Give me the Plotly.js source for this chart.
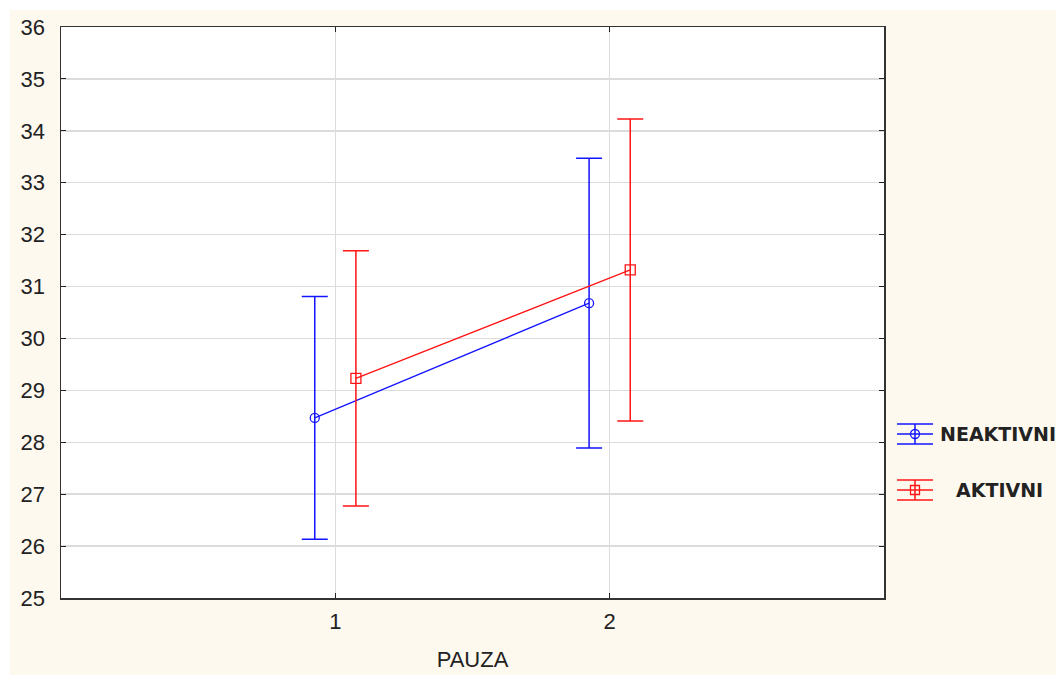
<!DOCTYPE html>
<html>
<head>
<meta charset="utf-8">
<script src="https://cdn.plot.ly/plotly-3.0.1.min.js"></script>
<style>html,body{margin:0;padding:0;background:#fff;}#chart{width:1056px;height:675px;}</style>
</head>
<body>
<div id="chart"></div>
<script>
// Data
const categories = [1, 2];
const tickLabels = ['1', '2'];
const seriesNames = ['NEAKTIVNI', 'AKTIVNI'];
const neaktivniMean = [28.47, 30.68];
const neaktivniErr = [2.34, 2.79];
const aktivniMean = [29.23, 31.32];
const aktivniErr = [2.46, 2.91];
const yTicks = [25, 26, 27, 28, 29, 30, 31, 32, 33, 34, 35, 36];

const offset = 0.075; // horizontal dodge of the two series
const blue = '#1414ff';
const red = '#ff1414';

const traces = [
  {
    x: categories.map(c => c - offset),
    y: neaktivniMean,
    name: seriesNames[0],
    type: 'scatter',
    mode: 'lines+markers',
    line: {color: blue, width: 1.3},
    marker: {symbol: 'circle-open', size: 9, color: blue, line: {width: 1.3}},
    error_y: {type: 'data', array: neaktivniErr, visible: true, color: blue, thickness: 1.5, width: 13},
    showlegend: false
  },
  {
    x: categories.map(c => c + offset),
    y: aktivniMean,
    name: seriesNames[1],
    type: 'scatter',
    mode: 'lines+markers',
    line: {color: red, width: 1.3},
    marker: {symbol: 'square-open', size: 10, color: red, line: {width: 1.3}},
    error_y: {type: 'data', array: aktivniErr, visible: true, color: red, thickness: 1.5, width: 13},
    showlegend: false
  }
];

// plot area in pixels: x 61..884, y 27..598
const L = 61, R = 884, T = 27, B = 598;
const W = R - L, H = B - T;
const px = p => (p - L) / W;
const py = p => (B - p) / H;

const shapes = [
  // white margins at top and left of the page
  {type: 'rect', xref: 'paper', yref: 'paper', x0: px(0), x1: px(1056), y0: py(10), y1: py(0), fillcolor: '#ffffff', line: {width: 0}, layer: 'below'},
  {type: 'rect', xref: 'paper', yref: 'paper', x0: px(0), x1: px(10), y0: py(675), y1: py(0), fillcolor: '#ffffff', line: {width: 0}, layer: 'below'}
];
const annotations = [];

function legendItem(cy, color, name, isSquare, textX) {
  const x0 = px(897), x1 = px(933), xc = px(915);
  [cy - 10, cy, cy + 10].forEach(yy => shapes.push({type: 'line', xref: 'paper', yref: 'paper', x0: x0, x1: x1, y0: py(yy), y1: py(yy), line: {color: color, width: 1.5}}));
  shapes.push({type: 'line', xref: 'paper', yref: 'paper', x0: xc, x1: xc, y0: py(cy - 10), y1: py(cy + 10), line: {color: color, width: 1.5}});
  const r = 4.5;
  shapes.push({type: isSquare ? 'rect' : 'circle', xref: 'paper', yref: 'paper', x0: px(915 - r), x1: px(915 + r), y0: py(cy + r), y1: py(cy - r), line: {color: color, width: 1.3}, fillcolor: 'rgba(0,0,0,0)'});
  annotations.push({xref: 'paper', yref: 'paper', x: px(textX), y: py(cy), xanchor: 'left', yanchor: 'middle', showarrow: false, text: '<b>' + name + '</b>', font: {family: 'DejaVu Sans', size: 19, color: '#222'}});
}
legendItem(434, blue, seriesNames[0], false, 938);
legendItem(490, red, seriesNames[1], true, 954);

const layout = {
  width: 1056,
  height: 675,
  margin: {l: L, r: 1056 - R, t: T, b: 675 - B},
  paper_bgcolor: '#fef9ef',
  plot_bgcolor: '#ffffff',
  showlegend: false,
  xaxis: {
    range: [0, 3],
    tickvals: categories,
    ticktext: tickLabels,
    ticks: 'inside',
    ticklen: 5,
    tickcolor: '#222',
    showline: true,
    linecolor: '#333',
    linewidth: 1.5,
    mirror: 'ticks',
    showgrid: true,
    gridcolor: '#dcdcdc',
    gridwidth: 1.5,
    zeroline: false,
    ticklabelstandoff: 3,
    tickfont: {family: 'Liberation Sans', size: 22, color: '#222'},
    title: {text: 'PAUZA', font: {family: 'Liberation Sans', size: 22, color: '#222'}, standoff: 18}
  },
  yaxis: {
    range: [25, 36],
    tickvals: yTicks,
    ticks: 'inside',
    ticklen: 5,
    tickcolor: '#222',
    showline: true,
    linecolor: '#333',
    linewidth: 1.5,
    mirror: 'ticks',
    showgrid: true,
    gridcolor: '#dcdcdc',
    gridwidth: 1.5,
    zeroline: false,
    ticklabelstandoff: 10,
    tickfont: {family: 'Liberation Sans', size: 22, color: '#222'}
  },
  shapes: shapes,
  annotations: annotations
};

Plotly.newPlot('chart', traces, layout, {displayModeBar: false, staticPlot: true});
</script>
</body>
</html>
